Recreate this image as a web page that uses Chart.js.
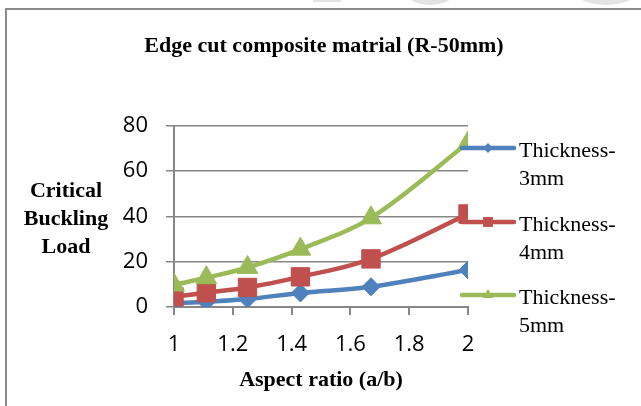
<!DOCTYPE html>
<html>
<head>
<meta charset="utf-8">
<script src="https://cdn.jsdelivr.net/npm/chart.js@4/dist/chart.umd.min.js"></script>
<style>
  html, body { margin: 0; padding: 0; background: #ffffff; }
  #wrap { width: 641px; height: 406px; position: relative; }
</style>
</head>
<body>
<div id="wrap"><canvas id="c" width="641" height="406"></canvas></div>
<script>
// ---- data ----
const chartTitle = 'Edge cut composite matrial (R-50mm)';
const xAxisTitle = 'Aspect ratio (a/b)';
const yAxisTitleLines = ['Critical', 'Buckling', 'Load'];
const aspectRatios = [1, 1.11, 1.25, 1.43, 1.67, 2];
const seriesNames = [['Thickness-', '3mm'], ['Thickness-', '4mm'], ['Thickness-', '5mm']];
const thickness3mm = [1.6, 2.3, 3.5, 6.2, 8.9, 16.3];
const thickness4mm = [4.5, 6.3, 8.6, 13.3, 21.2, 41.0];
const thickness5mm = [9.7, 12.9, 17.4, 25.5, 39.3, 72.4];
const xTickLabels = ['1', '1.2', '1.4', '1.6', '1.8', '2'];
const yTickLabels = ['0', '20', '40', '60', '80'];

// ---- styles ----
const colors = ['#4F81BD', '#C0504D', '#9BBB59'];
const pointStyles = ['rectRot', 'rect', 'triangle'];
const pointRadii = [9, 13, 12];
const legendRadii = [5, 7, 6];
const gridColor = '#878787';
const serif = '"Liberation Serif", "Times New Roman", serif';
const sans = '"Open Sans", "Noto Sans", sans-serif';

function toPoints(ys) { return ys.map((y, i) => ({ x: aspectRatios[i], y: y })); }
const seriesValues = [thickness3mm, thickness4mm, thickness5mm];

const datasets = seriesValues.map((vals, i) => ({
  label: seriesNames[i].join(''),
  data: toPoints(vals),
  borderColor: colors[i],
  backgroundColor: colors[i],
  pointBackgroundColor: colors[i],
  pointBorderColor: colors[i],
  pointBorderWidth: 1,
  pointStyle: pointStyles[i],
  pointRadius: pointRadii[i],
  borderWidth: 4.5,
  tension: 0.35,
  order: 3 - i
}));

const decorPlugin = {
  id: 'decor',
  beforeDraw(chart) {
    const ctx = chart.ctx;
    ctx.save();
    ctx.fillStyle = '#ffffff';
    ctx.fillRect(0, 0, chart.width, chart.height);
    // faint page artefacts at the top
    ctx.fillStyle = '#e3e3e3';
    ctx.fillRect(313, 0, 28, 2);
    ctx.beginPath(); ctx.ellipse(430, -14, 29, 19, 0, 0, Math.PI * 2); ctx.fill();
    ctx.beginPath(); ctx.ellipse(606, -14, 36, 19, 0, 0, Math.PI * 2); ctx.fill();
    // frame
    ctx.strokeStyle = '#8a8a8a';
    ctx.lineWidth = 2;
    ctx.beginPath();
    ctx.moveTo(6, 410); ctx.lineTo(6, 9); ctx.lineTo(645, 9);
    ctx.stroke();
    ctx.restore();
  },
  afterDraw(chart) {
    const ctx = chart.ctx;
    ctx.save();
    ctx.fillStyle = '#000';
    ctx.textBaseline = 'alphabetic';
    // chart title
    ctx.font = 'bold 22px ' + serif;
    ctx.textAlign = 'center';
    ctx.fillText(chartTitle, 324, 52);
    // y axis title (horizontal, multi-line)
    yAxisTitleLines.forEach((t, i) => ctx.fillText(t, 66, 197 + i * 28));
    // legend
    const rowY = [148, 222, 295];
    chart.data.datasets.forEach((ds, i) => {
      const y = rowY[i];
      ctx.strokeStyle = ds.borderColor;
      ctx.lineWidth = 4.5;
      ctx.lineCap = 'round';
      ctx.beginPath(); ctx.moveTo(462, y); ctx.lineTo(514, y); ctx.stroke();
      ctx.fillStyle = ds.borderColor;
      Chart.helpers.drawPoint(ctx, { pointStyle: ds.pointStyle, radius: legendRadii[i], borderWidth: 0, rotation: 0 }, 488, y);
      ctx.fillStyle = '#000';
      ctx.font = '22px ' + serif;
      ctx.textAlign = 'left';
      seriesNames[i].forEach((t, k) => ctx.fillText(t, 519, y + 9 + k * 28));
    });
    ctx.restore();
  }
};

new Chart(document.getElementById('c'), {
  type: 'line',
  data: { datasets: datasets },
  options: {
    responsive: false,
    animation: false,
    devicePixelRatio: 1,
    layout: { padding: { left: 0, right: 173, top: 125.5, bottom: 0 } },
    plugins: {
      legend: { display: false },
      tooltip: { enabled: false },
      title: { display: false }
    },
    scales: {
      x: {
        type: 'linear',
        min: 1, max: 2,
        afterFit(s) { s.height = 99; },
        ticks: {
          stepSize: 0.2,
          color: '#000',
          font: { family: sans, size: 22 },
          padding: 17,
          maxRotation: 0,
          callback: (v, i) => xTickLabels[i]
        },
        grid: { drawOnChartArea: false, drawTicks: true, tickLength: 8, color: gridColor, lineWidth: 2 },
        border: { display: true, color: gridColor, width: 2 },
        title: {
          display: true,
          text: xAxisTitle,
          color: '#000',
          font: { family: serif, size: 22, weight: 'bold', lineHeight: 1.2 },
          padding: { top: 0, bottom: 12 }
        }
      },
      y: {
        min: 0, max: 80,
        afterFit(s) { s.width = 174; },
        ticks: {
          stepSize: 20,
          color: '#000',
          font: { family: sans, size: 22 },
          padding: 18,
          callback: (v, i) => yTickLabels[i]
        },
        grid: { color: gridColor, lineWidth: 1.5, tickLength: 8, drawTicks: true },
        border: { display: true, color: gridColor, width: 2 }
      }
    }
  },
  plugins: [decorPlugin]
});
</script>
</body>
</html>
